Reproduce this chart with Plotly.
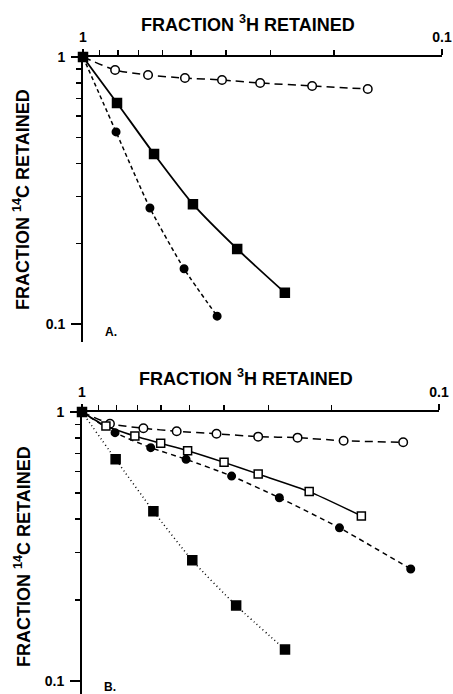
import plotly.graph_objects as go

# ---- Panel A data (fraction 3H retained, fraction 14C retained) ----
a_open_x = [1, 0.814, 0.659, 0.520, 0.410, 0.321, 0.230, 0.161]
a_open_y = [1, 0.894, 0.856, 0.834, 0.820, 0.799, 0.779, 0.759]
a_fsq_x = [1, 0.804, 0.634, 0.494, 0.372, 0.274]
a_fsq_y = [1, 0.673, 0.433, 0.281, 0.191, 0.131]
a_fci_x = [1, 0.809, 0.651, 0.523, 0.423]
a_fci_y = [1, 0.524, 0.272, 0.161, 0.107]

# ---- Panel B data ----
b_open_x = [1, 0.835, 0.673, 0.543, 0.420, 0.321, 0.249, 0.185, 0.126]
b_open_y = [1, 0.905, 0.870, 0.848, 0.830, 0.810, 0.803, 0.782, 0.772]
b_osq_x = [1, 0.857, 0.711, 0.602, 0.506, 0.400, 0.321, 0.231, 0.165]
b_osq_y = [1, 0.887, 0.814, 0.765, 0.718, 0.650, 0.588, 0.506, 0.411]
b_fci_x = [1, 0.808, 0.642, 0.511, 0.381, 0.280, 0.190, 0.120]
b_fci_y = [1, 0.838, 0.737, 0.667, 0.578, 0.480, 0.371, 0.261]
b_fsq_x = [1, 0.805, 0.631, 0.491, 0.370, 0.270]
b_fsq_y = [1, 0.667, 0.428, 0.281, 0.191, 0.131]

major_vals = [1, 0.1]
major_text = ["1", "0.1"]
minor_vals = [0.9, 0.8, 0.7, 0.6, 0.5, 0.4, 0.3, 0.2]

x_title = "FRACTION <sup>3</sup>H RETAINED"
y_title = "FRACTION <sup>14</sup>C RETAINED"
panel_labels = ["A.", "B."]

FONT = "Liberation Sans, Arial, Helvetica, sans-serif"
W, H = 453, 694

fig = go.Figure()


def add(x, y, xa, ya, symbol, fill, size, dash, width=1.5):
    fig.add_trace(go.Scatter(
        x=x, y=y, xaxis=xa, yaxis=ya, mode="lines+markers",
        line=dict(color="black", width=width, dash=dash, shape="spline", smoothing=0.6),
        marker=dict(symbol=symbol, size=size, color=fill,
                    line=dict(color="black", width=1.5)),
        cliponaxis=False, showlegend=False, hoverinfo="x+y"))


# Panel A
add(a_open_x, a_open_y, "x", "y", "circle", "white", 8.5, "8px,5px")
add(a_fci_x, a_fci_y, "x", "y", "circle", "black", 7.5, "4px,3px")
add(a_fsq_x, a_fsq_y, "x", "y", "square", "black", 9, "solid", 1.8)
# Panel B
add(b_open_x, b_open_y, "x2", "y2", "circle", "white", 8.5, "8px,5px")
add(b_fci_x, b_fci_y, "x2", "y2", "circle", "black", 7.5, "5px,4px")
add(b_osq_x, b_osq_y, "x2", "y2", "square", "white", 8, "solid")
add(b_fsq_x, b_fsq_y, "x2", "y2", "square", "black", 9, "1px,3px")


def xaxis(domain, anchor):
    return dict(type="log", domain=domain, anchor=anchor, side="top",
                range=[0, -1], tickvals=major_vals, ticktext=major_text,
                ticks="outside", ticklen=6, tickwidth=1.5, tickcolor="black",
                showline=True, linecolor="black", linewidth=2, automargin=False,
                showgrid=False, zeroline=False, ticklabelstandoff=1,
                tickfont=dict(family=FONT, size=14, color="black", weight="bold"),
                minor=dict(tickvals=minor_vals, ticks="outside", ticklen=5,
                           tickwidth=1.5, tickcolor="black", showgrid=False))


def yaxis(domain, anchor, lo):
    return dict(type="log", domain=domain, anchor=anchor,
                range=[lo, 0], tickvals=major_vals, ticktext=major_text,
                ticks="outside", ticklen=10, tickwidth=1.5, tickcolor="black",
                showline=True, linecolor="black", linewidth=2, automargin=False,
                showgrid=False, zeroline=False, ticklabelstandoff=3,
                tickfont=dict(family=FONT, size=14, color="black", weight="bold"),
                minor=dict(tickvals=minor_vals, ticks="outside", ticklen=5,
                           tickwidth=1.5, tickcolor="black", showgrid=False))


fig.update_layout(
    width=W, height=H,
    margin=dict(l=0, r=0, t=0, b=0, autoexpand=False),
    paper_bgcolor="white", plot_bgcolor="white",
    xaxis=xaxis([83 / W, 442 / W], "y"),
    yaxis=yaxis([1 - 342 / H, 1 - 57 / H], "x", -1.0674),
    xaxis2=xaxis([82 / W, 439 / W], "y2"),
    yaxis2=yaxis([0, 1 - 412 / H], "x2", -1.048),
)

ann_font = dict(family=FONT, size=18, color="black", weight="bold")
for cx, cy in [(248, 23), (246, 377)]:
    fig.add_annotation(text=x_title, xref="paper", yref="paper",
                       x=cx / W, y=1 - cy / H, showarrow=False, font=ann_font,
                       xanchor="center", yanchor="middle")
for cx, cy in [(22, 200), (22, 557)]:
    fig.add_annotation(text=y_title, xref="paper", yref="paper", textangle=-90,
                       x=cx / W, y=1 - cy / H, showarrow=False, font=ann_font,
                       xanchor="center", yanchor="middle")
for lab, (cx, cy) in zip(panel_labels, [(111, 332), (110, 687)]):
    fig.add_annotation(text=lab, xref="paper", yref="paper",
                       x=cx / W, y=1 - cy / H, showarrow=False,
                       font=dict(family=FONT, size=12, color="black", weight="bold"),
                       xanchor="center", yanchor="middle")

fig.write_html("out.html",
               config=dict(displayModeBar=False, staticPlot=True),
               post_script="document.body.style.margin='0';document.body.style.overflow='hidden';")
